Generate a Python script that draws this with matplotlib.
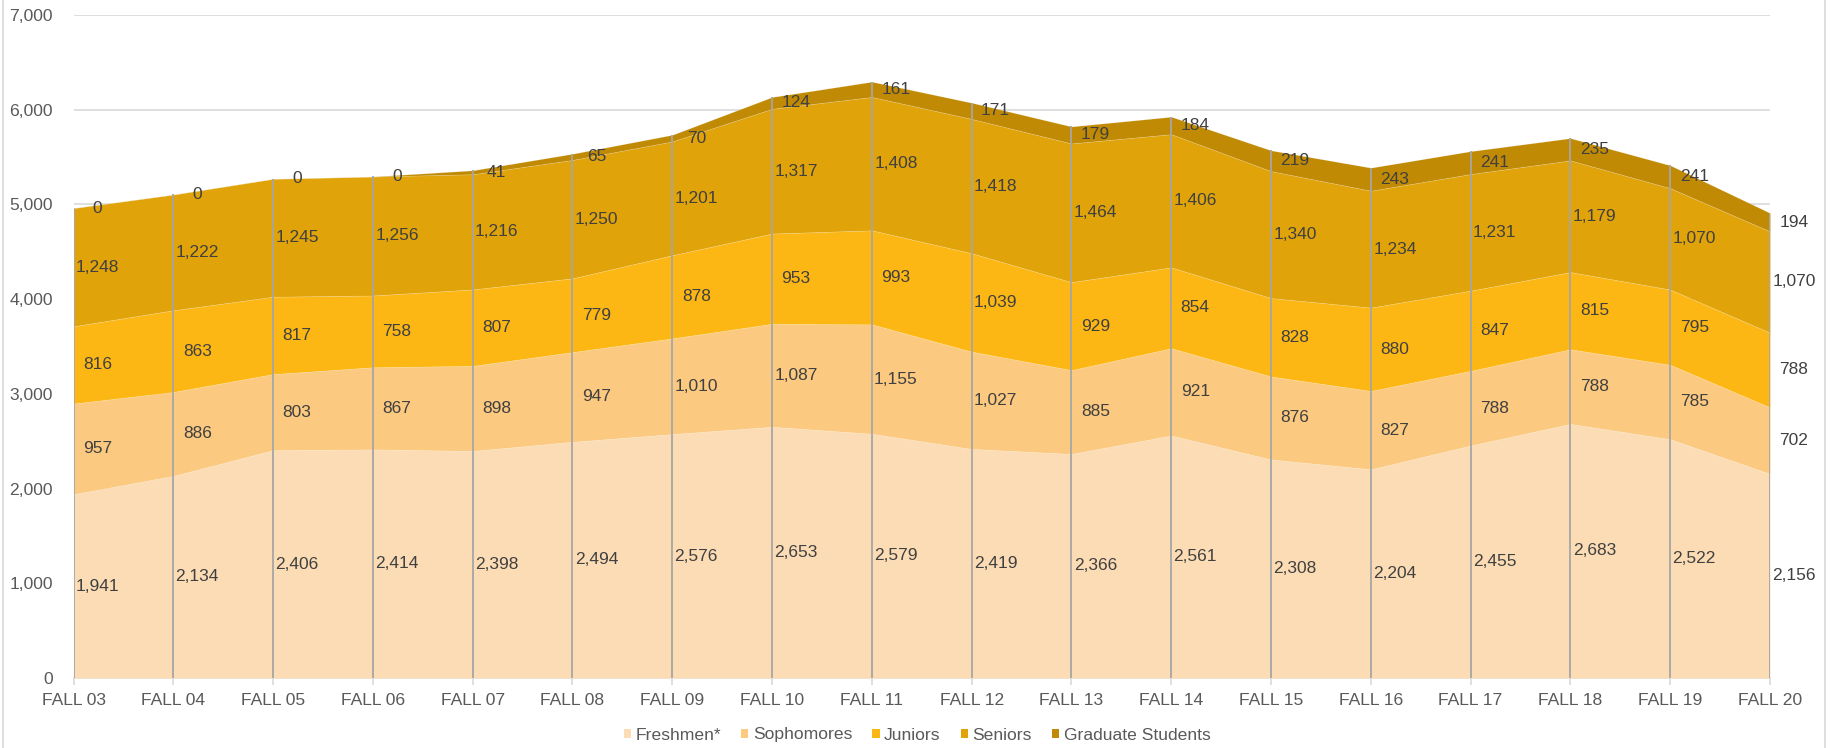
import numpy as np
import matplotlib
matplotlib.use("Agg")
import matplotlib.pyplot as plt
from matplotlib.lines import Line2D
from matplotlib.patches import Patch

plt.rcParams['font.family'] = ['Liberation Sans', 'DejaVu Sans']

terms = ['FALL 03', 'FALL 04', 'FALL 05', 'FALL 06', 'FALL 07', 'FALL 08', 'FALL 09',
         'FALL 10', 'FALL 11', 'FALL 12', 'FALL 13', 'FALL 14', 'FALL 15', 'FALL 16',
         'FALL 17', 'FALL 18', 'FALL 19', 'FALL 20']
freshmen = [1941, 2134, 2406, 2414, 2398, 2494, 2576, 2653, 2579, 2419, 2366, 2561, 2308, 2204, 2455, 2683, 2522, 2156]
sophomores = [957, 886, 803, 867, 898, 947, 1010, 1087, 1155, 1027, 885, 921, 876, 827, 788, 788, 785, 702]
juniors = [816, 863, 817, 758, 807, 779, 878, 953, 993, 1039, 929, 854, 828, 880, 847, 815, 795, 788]
seniors = [1248, 1222, 1245, 1256, 1216, 1250, 1201, 1317, 1408, 1418, 1464, 1406, 1340, 1234, 1231, 1179, 1070, 1070]
graduate = [0, 0, 0, 0, 41, 65, 70, 124, 161, 171, 179, 184, 219, 243, 241, 235, 241, 194]

names = ['Freshmen*', 'Sophomores', 'Juniors', 'Seniors', 'Graduate Students']
colors = ['#FCDCB4', '#FBC97F', '#FDB714', '#E0A309', '#C18A04']

series = [freshmen, sophomores, juniors, seniors, graduate]
x = np.arange(len(terms))

fig = plt.figure(figsize=(18.35, 7.48), dpi=100)
ax = fig.add_axes([73.5/1835, 1-678/748, (1770-73.5)/1835, (678-15)/748])

base = np.zeros(len(terms))
for vals, col in zip(series, colors):
    vals = np.array(vals, dtype=float)
    ax.fill_between(x, base, base + vals, color=col, lw=0.5, edgecolor=(1, 1, 1, 0.2), zorder=2)
    base = base + vals
total = base

# drop lines
ax.vlines(x, 0, total, color='#A6A6A6', lw=1.3, zorder=3)

# data labels
base = np.zeros(len(terms))
for vals in series:
    vals = np.array(vals, dtype=float)
    for i in range(len(terms)):
        ax.annotate(f'{int(vals[i]):,}', (x[i], base[i] + vals[i]/2), xytext=(24, 0),
                    textcoords='offset pixels', ha='center', va='center',
                    fontsize=12.5, color='#404040', zorder=4, annotation_clip=False)
    base = base + vals

ax.set_xlim(0, len(terms)-1)
ax.set_ylim(0, 7000)
ax.set_yticks(range(0, 7001, 1000))
ax.set_yticklabels([f'{v:,}' for v in range(0, 7001, 1000)])
ax.set_xticks(x)
ax.set_xticklabels(terms)
ax.yaxis.grid(True, color='#D9D9D9', lw=1.2, zorder=0)
ax.set_axisbelow(True)
for s in ['top', 'right', 'left']:
    ax.spines[s].set_visible(False)
ax.spines['bottom'].set_color('#D9D9D9')
ax.spines['bottom'].set_linewidth(1.2)
ax.spines['bottom'].set_zorder(1)
ax.tick_params(axis='y', length=0, pad=15, labelsize=12.6, labelcolor='#595959')
ax.tick_params(axis='x', length=5, width=1.2, color='#D9D9D9', pad=6, labelsize=12.6, labelcolor='#595959')

handles = [Patch(facecolor=c, edgecolor='none') for c in colors]
fig.legend(handles, names, loc='center', bbox_to_anchor=(917/1835, 1-735/748), ncol=5,
           frameon=False, fontsize=12.6, handlelength=0.42, handleheight=0.42,
           handletextpad=0.25, columnspacing=1.15, labelcolor='#595959')

# chart border
fig.add_artist(Line2D([3/1835, 3/1835], [0, 1], color='#D9D9D9', lw=1.2))
fig.add_artist(Line2D([1825/1835, 1825/1835], [0, 1], color='#D9D9D9', lw=1.2))

fig.savefig('out.png', dpi=100, facecolor='white')
